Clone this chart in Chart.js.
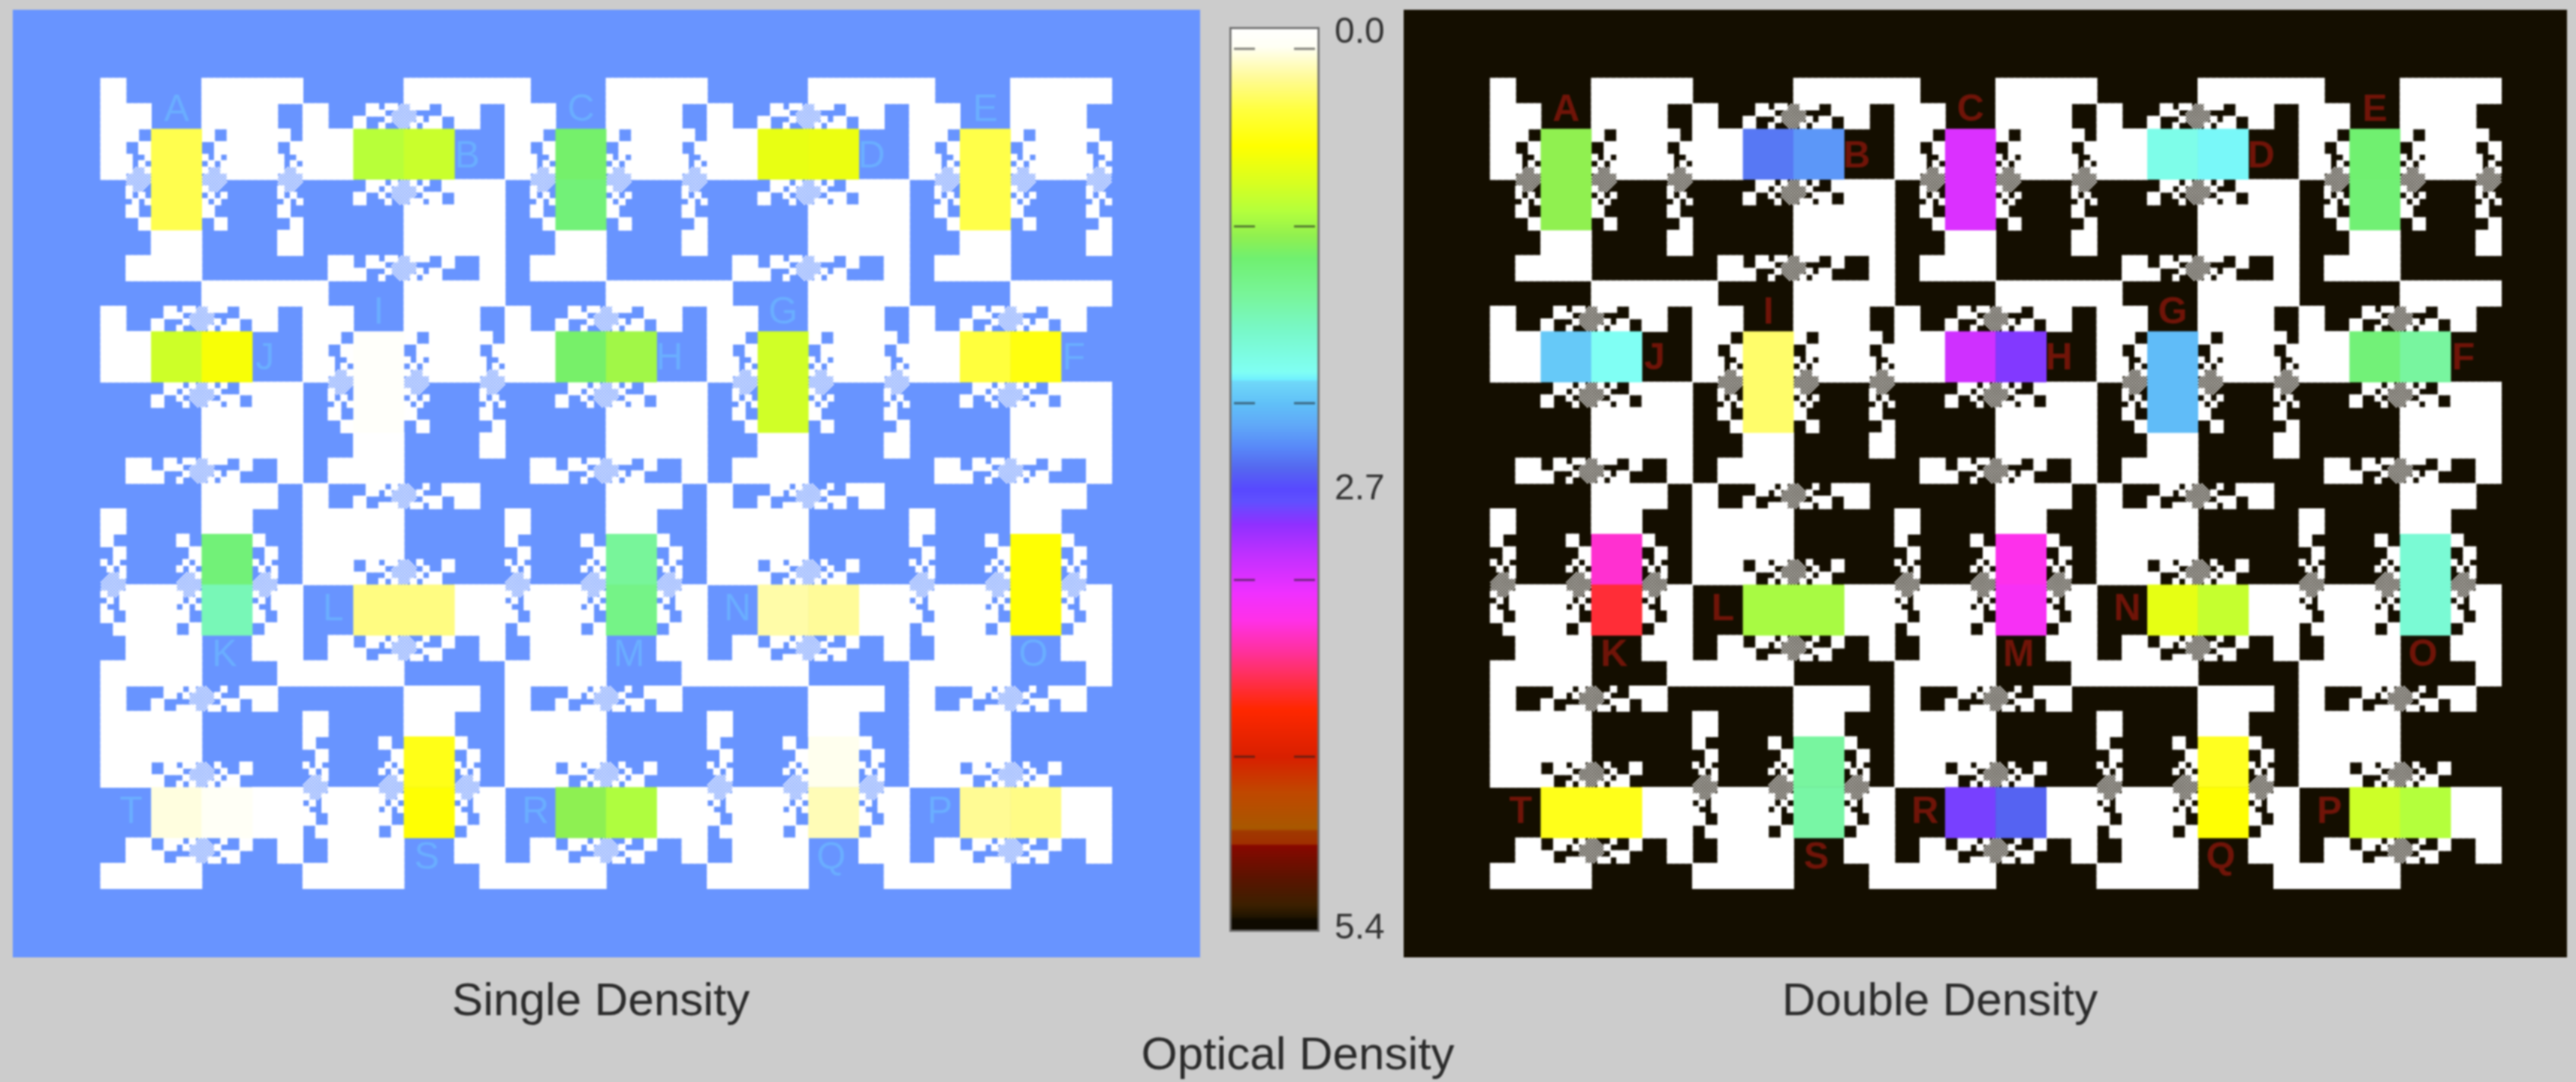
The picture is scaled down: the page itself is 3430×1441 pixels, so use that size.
<!DOCTYPE html>
<html lang="en">

<head>
  <meta charset="UTF-8" />
  <title>Optical Density</title>
  <script src="https://cdn.jsdelivr.net/npm/chart.js"></script>
  <style>
    body { margin: 0; background: #cccccc; width: 3430px; height: 1441px; overflow: hidden; position: relative; }
    canvas { position: absolute; filter: blur(1.1px); }
    #painel_single { left: 17px; top: 13px; background: #6894ff; }
    #painel_double { left: 1869px; top: 13px; background: #140e00; }
    #barra { left: 1630px; top: 0; }
    .titulo { position: absolute; font-family: "Liberation Sans", sans-serif; font-size: 62px; color: #2b2b2b;
      transform: translateX(-50%); white-space: nowrap; filter: blur(0.8px); line-height: 1; }
  </style>
</head>

<body>
  <canvas id="painel_single" width="1581" height="1262"></canvas>
  <canvas id="barra" width="232" height="1290"></canvas>
  <canvas id="painel_double" width="1549" height="1262"></canvas>
  <div class="titulo" style="left: 800px; top: 1300px">Single Density</div>
  <div class="titulo" style="left: 2583px; top: 1300px">Double Density</div>
  <div class="titulo" style="left: 1728px; top: 1372px">Optical Density</div>

<script>
  // colour bar: optical density stops and the colour read at each one
  var bar_stops = [0, 0.117, 0.305, 0.49, 0.71, 0.93, 1.10, 1.25, 1.38, 1.59, 1.81, 2.06, 2.105, 2.115, 2.25, 2.38, 2.51, 2.63, 2.76,
    2.83, 2.97, 3.15, 3.38, 3.54, 3.72, 3.86, 4.07, 4.36, 4.57, 4.785, 4.80, 4.875, 4.885, 5.08, 5.24, 5.31, 5.33, 5.4];
  var bar_colors = ["#ffffff", "#fffff5", "#fffb96", "#ffff40", "#ffff00", "#d8ff20", "#b4ff3c", "#90f050", "#70f070", "#78f598", "#78f8c8", "#80fff4", "#70f0ff", "#70d8f8", "#60c0f8", "#60a8f8", "#5888f8", "#5568f0", "#5848ff",
    "#6050ff", "#9030ff", "#c030ff", "#f030ff", "#ff30e8", "#ff30a0", "#ff3060", "#ff2800", "#d82000", "#c04800", "#a85800", "#a03800", "#a03000", "#880800", "#5a1400", "#3c2000", "#201400", "#0e0a00", "#0e0a00"];
  var bar_tick_values = [0.036, 2.76, 5.38];
  var bar_tick_labels = ["0.0", "2.7", "5.4"];
  var bar_minor_ticks = [0.13, 1.19, 2.245, 3.30, 4.355];

  // one test tile, a quarter module per character, # = white
  var tile_rows = [
    "####............################",
    "####............################",
    "####............################",
    "####............################",
    "########........############....",
    "########........############....",
    "########........############....",
    "########........############....",
    "######..........##..##########..",
    "######..........##..##########..",
    "####..##..........##########..##",
    "####..##..........##########..##",
    "####" + "#..#" + "........" + "#.#." + "########" + "#..#",
    "####" + "#.#." + "........" + ".#.#" + "########" + "#.#.",
    "####" + "#..#" + "........" + "#..#" + "########" + "#..#",
    "####" + "...." + "........" + "...." + "########" + "....",
    "....",
    "...." + "#..." + "........" + "#..." + "........" + "#...",
    "...." + "#.#." + "........" + ".#.#" + "........" + "#.#.",
    "...." + ".#.#" + "........" + "#.#." + "........" + ".#.#",
    "....##..........##..........##..",
    "....##..........##..........##..",
    "......##..........##..........##",
    "......##..........##..........##",
    "........########............####",
    "........########............####",
    "........########............####",
    "........########............####",
    "....############................",
    "....############................",
    "....############................",
    "....############................"
  ];

  // fine checker of the dithered spots
  var dither_rows = [
    "......#.#.#.....",
    ".....#.#.#.#....",
    "....#.#.#.#.#...",
    "...#.#.#.#.#.#..",
    "..#.#.#.#.#.#.#.",
    ".#.#.#.#.#.#.#.#",
    "#.#.#.#.#.#.#.#.",
    ".#.#.#.#.#.#.#.#",
    "#.#.#.#.#.#.#.#.",
    ".#.#.#.#.#.#.#.#",
    "#.#.#.#.#.#.#.#.",
    ".#.#.#.#.#.#.#..",
    "..#.#.#.#.#.#...",
    "...#.#.#.#.#....",
    "....#.#.#.#.....",
    ".....#.#.#......"
  ];
  var dither_centers = [[3, 8], [9, 8], [15, 8]];

  // how each tile is turned (quarter turns clockwise) and the letter it carries
  var tile_turns = [
    [0, 1, 0, 1, 0],
    [1, 0, 1, 0, 1],
    [2, 3, 2, 3, 2],
    [3, 2, 3, 2, 3]
  ];
  var tile_letters = [
    ["A", "B", "C", "D", "E"],
    ["J", "I", "H", "G", "F"],
    ["K", "L", "M", "N", "O"],
    ["T", "S", "R", "Q", "P"]
  ];

  // density of each patch: top/left half and bottom/right half, letters A to T
  var patch_names = ["A", "B", "C", "D", "E", "F", "G", "H", "I", "J", "K", "L", "M", "N", "O", "P", "Q", "R", "S", "T"];
  var single_first = [0.46, 1.08, 1.36, 0.84, 0.47, 0.50, 0.97, 1.35, 0.06, 0.98, 1.42, 0.35, 1.60, 0.27, 0.70, 0.31, 0.13, 1.26, 0.63, 0.16];
  var single_second = [0.46, 1.00, 1.42, 0.82, 0.47, 0.66, 0.97, 1.18, 0.06, 0.75, 1.73, 0.35, 1.50, 0.30, 0.70, 0.34, 0.24, 1.12, 0.70, 0.10];
  var double_first = [1.25, 2.57, 3.28, 2.00, 1.38, 1.42, 2.27, 3.22, 0.40, 2.20, 3.60, 1.15, 3.52, 0.85, 1.88, 0.98, 0.60, 2.90, 1.62, 0.62];
  var double_second = [1.25, 2.45, 3.28, 2.08, 1.40, 1.62, 2.27, 2.93, 0.40, 2.06, 3.95, 1.15, 3.45, 1.02, 1.88, 1.10, 0.70, 2.65, 1.65, 0.62];

  var patch_centers = [[6, 8], [8, 6], [10, 8], [8, 10]];
  var letter_spots = [[6, 2.55], [13, 6.2], [9.8, 13.6], [2.4, 10]];

  function virar(x, y, turn, size) {
    if (turn == 1) return [size - y, x];
    if (turn == 2) return [size - x, size - y];
    if (turn == 3) return [y, size - x];
    return [x, y];
  }

  function cor_densidade(od) {
    for (var i = 0; i < bar_stops.length - 1; i++) {
      if (od <= bar_stops[i + 1]) {
        var t = (od - bar_stops[i]) / (bar_stops[i + 1] - bar_stops[i]);
        var rgb = [1, 3, 5].map(function (p) {
          var a = parseInt(bar_colors[i].substr(p, 2), 16);
          var b = parseInt(bar_colors[i + 1].substr(p, 2), 16);
          return Math.round(a + (b - a) * t);
        });
        return "rgb(" + rgb.join(",") + ")";
      }
    }
    return bar_colors[bar_colors.length - 1];
  }

  // white cells of all 20 tiles
  function montar_celulas() {
    var pontos = [];
    for (var t = 0; t < 4; t++) {
      for (var s = 0; s < 5; s++) {
        for (var j = 0; j < 32; j++) {
          for (var i = 0; i < 32; i++) {
            if (tile_rows[j][i] != "#") continue;
            var p = virar(i + 0.5, j + 0.5, tile_turns[t][s], 32);
            pontos.push({ x: s * 16 + p[0] / 2, y: t * 16 + p[1] / 2 });
          }
        }
      }
    }
    return pontos;
  }

  function montar_dither() {
    var pontos = [];
    for (var t = 0; t < 4; t++) {
      for (var s = 0; s < 5; s++) {
        dither_centers.forEach(function (c) {
          var p = virar(c[0], c[1], tile_turns[t][s], 16);
          for (var j = 0; j < 16; j++) {
            for (var i = 0; i < 16; i++) {
              if (dither_rows[j][i] != "#") continue;
              pontos.push({ x: s * 16 + p[0] + (i - 7.5) / 8, y: t * 16 + p[1] + (j - 7.5) / 8 });
            }
          }
        });
      }
    }
    return pontos;
  }

  function montar_patches(first, second) {
    var pontos = [];
    var cores = [];
    for (var t = 0; t < 4; t++) {
      for (var s = 0; s < 5; s++) {
        var turn = tile_turns[t][s];
        var c = patch_centers[turn];
        var n = patch_names.indexOf(tile_letters[t][s]);
        var dx = turn % 2 ? 2 : 0;
        var dy = turn % 2 ? 0 : 2;
        pontos.push({ x: s * 16 + c[0] - dx, y: t * 16 + c[1] - dy });
        cores.push(cor_densidade(first[n]));
        pontos.push({ x: s * 16 + c[0] + dx, y: t * 16 + c[1] + dy });
        cores.push(cor_densidade(second[n]));
      }
    }
    return { pontos: pontos, cores: cores };
  }

  function criar_painel(id, first, second, cor_letra, peso, limites) {
    var patches = montar_patches(first, second);
    new Chart(document.getElementById(id), {
      type: "scatter",
      data: {
        datasets: [
          { data: patches.pontos, pointStyle: "rect", pointRadius: 48, pointBackgroundColor: patches.cores, pointBorderWidth: 0 },
          { data: montar_dither(), pointStyle: "rect", pointRadius: 1.5, pointBackgroundColor: "#ffffff", pointBorderWidth: 0 },
          { data: montar_celulas(), pointStyle: "rect", pointRadius: 6.8, pointBackgroundColor: "#ffffff", pointBorderWidth: 0 }
        ]
      },
      options: {
        responsive: false,
        animation: false,
        devicePixelRatio: 1,
        events: [],
        layout: { autoPadding: false },
        plugins: { legend: { display: false }, tooltip: { enabled: false } },
        scales: {
          x: { type: "linear", display: false, min: limites[0], max: limites[1] },
          y: { type: "linear", display: false, reverse: true, min: limites[2], max: limites[3] }
        }
      },
      plugins: [{
        id: "letras",
        afterDatasetsDraw: function (chart) {
          var ctx = chart.ctx;
          ctx.save();
          ctx.fillStyle = cor_letra;
          ctx.font = peso + " 50px 'Liberation Sans'";
          ctx.textAlign = "center";
          ctx.textBaseline = "middle";
          for (var t = 0; t < 4; t++) {
            for (var s = 0; s < 5; s++) {
              var spot = letter_spots[tile_turns[t][s]];
              ctx.fillText(tile_letters[t][s], chart.scales.x.getPixelForValue(s * 16 + spot[0]), chart.scales.y.getPixelForValue(t * 16 + spot[1]));
            }
          }
          ctx.restore();
        }
      }]
    });
  }

  function criar_barra() {
    new Chart(document.getElementById("barra"), {
      type: "bar",
      data: {
        labels: ["Optical Density"],
        datasets: [
          {
            type: "scatter",
            xAxisID: "x2",
            clip: 0,
            data: bar_minor_ticks.map(function (v) { return { x: 0, y: v }; }).concat(bar_minor_ticks.map(function (v) { return { x: 1, y: v }; })),
            pointStyle: "line",
            pointRadius: 14,
            pointBorderWidth: 3,
            pointBorderColor: "rgba(30, 30, 30, 0.55)"
          },
          {
            data: [[bar_stops[0], bar_stops[bar_stops.length - 1]]],
            xAxisID: "x",
            grouped: false,
            barThickness: 120,
            borderWidth: 3,
            borderSkipped: false,
            borderColor: "rgba(50, 50, 50, 0.6)",
            backgroundColor: function (context) {
              var chart = context.chart;
              if (!chart.chartArea) return "#ffffff";
              var y = chart.scales.y;
              var fim = bar_stops[bar_stops.length - 1];
              var g = chart.ctx.createLinearGradient(0, y.getPixelForValue(0), 0, y.getPixelForValue(fim));
              bar_stops.forEach(function (v, i) { g.addColorStop(v / fim, bar_colors[i]); });
              return g;
            }
          }
        ]
      },
      options: {
        responsive: false,
        animation: false,
        devicePixelRatio: 1,
        events: [],
        layout: { autoPadding: false, padding: { left: 7, top: 36, bottom: 49, right: 0 } },
        plugins: { legend: { display: false }, tooltip: { enabled: false } },
        scales: {
          x: { type: "category", offset: true, display: false },
          x2: { type: "linear", display: false, min: 0, max: 1 },
          y: {
            position: "right",
            reverse: true,
            min: bar_stops[0],
            max: bar_stops[bar_stops.length - 1],
            grid: { display: false, drawTicks: false },
            border: { display: false },
            afterFit: function (axis) {
              axis.width = 105;
              axis.paddingTop = 0;
              axis.paddingBottom = 0;
            },
            afterBuildTicks: function (axis) {
              axis.ticks = bar_tick_values.map(function (v) { return { value: v }; });
            },
            ticks: {
              autoSkip: false,
              padding: 20,
              color: "#333333",
              font: { family: "Liberation Sans", size: 48 },
              callback: function (value, index) { return bar_tick_labels[index]; }
            }
          }
        }
      }
    });
  }

  criar_painel("painel_single", single_first, single_second, "#6aaeff", "normal", [-6.96, 87, -5.41, 69.43]);
  criar_painel("painel_double", double_first, double_second, "#701408", "bold", [-6.86, 85.2, -5.41, 69.43]);
  criar_barra();
</script>
</body>

</html>
